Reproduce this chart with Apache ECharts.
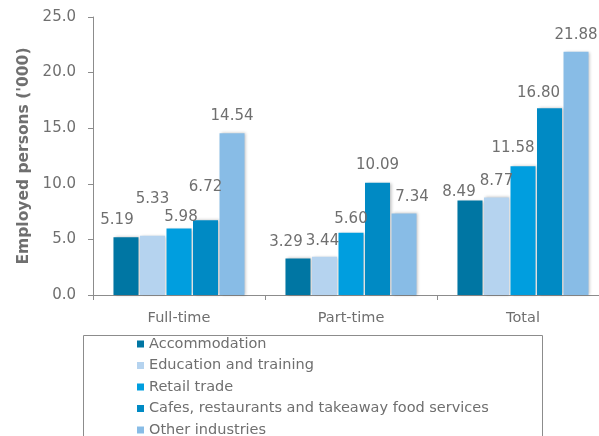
<!DOCTYPE html>
<html>
<head>
<meta charset="utf-8">
<script src="https://cdn.jsdelivr.net/npm/echarts@6/dist/echarts.min.js"></script>
<style>html,body{margin:0;padding:0;background:#fff;overflow:hidden;}#c{width:599px;height:436px;}</style>
</head>
<body>
<div id="c"></div>
<script>
const categories = ['Full-time', 'Part-time', 'Total'];
const seriesNames = ['Accommodation', 'Education and training', 'Retail trade', 'Cafes, restaurants and takeaway food services', 'Other industries'];
const accommodation = [5.19, 3.29, 8.49];
const education = [5.33, 3.44, 8.77];
const retail = [5.98, 5.60, 11.58];
const cafes = [6.72, 10.09, 16.80];
const other = [14.54, 7.34, 21.88];
const yTicks = [0, 5, 10, 15, 20, 25];

const values = [accommodation, education, retail, cafes, other];
const colors = ['#0076A3', '#B5D3EF', '#009EDF', '#008AC4', '#88BCE6'];
// label nudges [dx, dy] per series per category (style only)
const labelNudge = [
  [[-9, -1], [-12, 0], [-11, 8]],
  [[0, -20], [-2, 1], [0, 0]],
  [[2, 5], [0, 3], [-10, -2]],
  [[0, -17], [0, -1], [-11, 1]],
  [[0, -1], [8, 0], [0, 0]]
];

const chart = echarts.init(document.getElementById('c'));
const font = 'DejaVu Sans';
chart.setOption({
  animation: false,
  textStyle: { fontFamily: font },
  grid: { left: 93, top: 17, width: 516, height: 278, containLabel: false, outerBoundsMode: 'none' },
  legend: {
    orient: 'vertical',
    left: 132, top: 331, height: 200,
    itemWidth: 7, itemHeight: 7,
    itemGap: 5.5,
    icon: 'rect',
    textStyle: { fontFamily: font, fontSize: 14.5, color: '#6f6f6f', lineHeight: 16 },
    data: seriesNames
  },
  graphic: [{
    type: 'rect', left: 81, top: 333, silent: true,
    shape: { width: 459, height: 120 },
    style: { fill: 'none', stroke: '#8c8c8c', lineWidth: 1 }
  }],
  xAxis: {
    type: 'category',
    data: categories,
    axisLine: { lineStyle: { color: '#8c8c8c', width: 1 } },
    axisTick: { show: true, length: 5, lineStyle: { color: '#8c8c8c' } },
    axisLabel: { fontFamily: font, fontSize: 14.5, color: '#6f6f6f', margin: 16 }
  },
  yAxis: {
    type: 'value',
    min: 0, max: 25, interval: 5,
    name: "Employed persons ('000)",
    nameLocation: 'middle',
    nameGap: 59,
    nameTextStyle: { fontFamily: font, fontSize: 15.5, fontWeight: 'bold', color: '#6f6f6f' },
    axisLine: { show: true, lineStyle: { color: '#8c8c8c', width: 1 } },
    axisTick: { show: true, length: 5, lineStyle: { color: '#8c8c8c' } },
    splitLine: { show: false },
    axisLabel: {
      fontFamily: font, fontSize: 15, color: '#6f6f6f', margin: 17,
      formatter: v => yTicks.includes(v) ? v.toFixed(1) : ''
    }
  },
  series: seriesNames.map((name, si) => ({
    name: name,
    type: 'bar',
    barGap: '6%',
    barCategoryGap: '23.8%',
    itemStyle: {
      color: colors[si],
      shadowColor: 'rgba(0,0,0,0.25)', shadowBlur: 3, shadowOffsetX: 1.5, shadowOffsetY: 0
    },
    label: {
      show: true, position: 'top', distance: 9,
      fontFamily: font, fontSize: 15, color: '#6f6f6f',
      formatter: p => p.value.toFixed(2)
    },
    data: values[si].map((v, ci) => ({
      value: v,
      label: { offset: labelNudge[si][ci] }
    }))
  }))
});
</script>
</body>
</html>
